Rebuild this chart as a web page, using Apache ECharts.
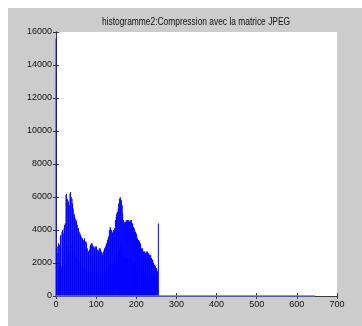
<!DOCTYPE html>
<html>
<head>
<meta charset="utf-8">
<script src="https://cdn.jsdelivr.net/npm/echarts@6/dist/echarts.min.js"></script>
<style>
html,body{margin:0;padding:0;background:#fff;}
#c{width:362px;height:326px;}
</style>
</head>
<body>
<div id="c"></div>
<script>
// Histogram counts for grey levels 0..255
const counts = [
  15600,
  2900, 1500, 3000, 0, 2600,
  3200, 1700, 0, 3100, 1900,
  3600, 3700, 1800, 0, 3900,
  4000, 2200, 3800, 0, 4100,
  4300, 2000, 4400, 0, 6100,
  6200, 3000, 5900, 0, 5800,
  5700, 2600, 5500, 0, 6200,
  6300, 3100, 6000, 0, 5900,
  5600, 2800, 5300, 0, 5000,
  4900, 2400, 4700, 0, 4600,
  4500, 2300, 4300, 0, 4100,
  4100, 2100, 3900, 0, 3800,
  3700, 1900, 3600, 0, 3500,
  3500, 1700, 3400, 0, 3400,
  3500, 1600, 3300, 0, 3300,
  3200, 1500, 2900, 0, 2700,
  2700, 1400, 2800, 0, 3000,
  3100, 1500, 3200, 0, 3200,
  3100, 1600, 3000, 0, 3000,
  2900, 1500, 3000, 0, 2900,
  3000, 1400, 2800, 0, 2800,
  2700, 1400, 2900, 0, 2900,
  2800, 1300, 2700, 0, 2600,
  2500, 1400, 2700, 0, 2800,
  2900, 1500, 3000, 0, 3100,
  3200, 1700, 3400, 0, 3500,
  3600, 1900, 4000, 0, 4200,
  4100, 2000, 4000, 0, 3900,
  3800, 1900, 4000, 0, 3900,
  4100, 2200, 4600, 0, 4800,
  5000, 2500, 5100, 0, 5300,
  5600, 2800, 5900, 0, 6000,
  5900, 3000, 5800, 0, 5500,
  5000, 2400, 4600, 0, 4500,
  4400, 2300, 4500, 0, 4600,
  4500, 2300, 4600, 0, 4500,
  4600, 2200, 4500, 0, 4600,
  4500, 2300, 4600, 0, 4400,
  4400, 2100, 4200, 0, 4100,
  4000, 2000, 3900, 0, 3800,
  3700, 1800, 3500, 0, 3400,
  3400, 1700, 3300, 0, 3200,
  3100, 1600, 2900, 0, 2800,
  2900, 1500, 2700, 0, 2700,
  2700, 1400, 2600, 0, 2700,
  2600, 1300, 2700, 0, 2500,
  2600, 1300, 2500, 0, 2400,
  2500, 1200, 2300, 0, 2200,
  2200, 1100, 2000, 0, 1900,
  1900, 1000, 1800, 0, 1700,
  1600, 900, 1500, 0, 4400
];
// zero-count bins extend along the x axis up to this value
const zeroRange = [0, 645];
const xTicks = [0, 100, 200, 300, 400, 500, 600, 700];
const yTicks = [0, 2000, 4000, 6000, 8000, 10000, 12000, 14000, 16000];
const titleText = 'histogramme2:Compression avec la matrice JPEG';

const barData = counts.map((v, i) => [i, v]);
const font = "'Liberation Sans', Arial, sans-serif";
const axisCol = '#3a3a3a';

const chart = echarts.init(document.getElementById('c'), null, {renderer: 'canvas'});
chart.setOption({
  animation: false,
  backgroundColor: '#ffffff',
  graphic: [{
    type: 'rect', z: -10, silent: true,
    shape: {x: 8, y: 8, width: 354, height: 318},
    style: {fill: '#cccccc'}
  }, {
    type: 'text', silent: true, z: 10,
    x: 196, y: 22, scaleX: 0.84, scaleY: 1,
    style: {text: titleText, fontFamily: font, fontSize: 10, fill: '#111',
            align: 'center', verticalAlign: 'middle'}
  }],
  grid: {left: 56, right: 25, top: 32, bottom: 30, show: true, backgroundColor: '#ffffff', borderWidth: 0},
  xAxis: [{
    type: 'value', min: xTicks[0], max: xTicks[xTicks.length - 1], interval: 100,
    axisLine: {show: true, onZero: false, lineStyle: {color: axisCol, width: 1}},
    axisTick: {show: true, inside: true, length: 3, lineStyle: {color: axisCol}},
    axisLabel: {fontFamily: font, fontSize: 9, color: '#111', margin: 4, formatter: v => String(v)},
    splitLine: {show: false}
  }, {
    type: 'value', position: 'top', min: xTicks[0], max: xTicks[xTicks.length - 1], interval: 100,
    axisLine: {show: true, lineStyle: {color: axisCol, width: 1}},
    axisTick: {show: true, inside: true, length: 3, lineStyle: {color: axisCol}},
    axisLabel: {show: false}, splitLine: {show: false}
  }],
  yAxis: [{
    type: 'value', min: yTicks[0], max: yTicks[yTicks.length - 1], interval: 2000,
    axisLine: {show: true, onZero: false, lineStyle: {color: axisCol, width: 1}},
    axisTick: {show: true, inside: true, length: 3, lineStyle: {color: axisCol}},
    axisLabel: {fontFamily: font, fontSize: 9, color: '#111', margin: 4, formatter: v => String(v)},
    splitLine: {show: false}
  }, {
    type: 'value', position: 'right', min: yTicks[0], max: yTicks[yTicks.length - 1], interval: 2000,
    axisLine: {show: true, lineStyle: {color: axisCol, width: 1}},
    axisTick: {show: true, inside: true, length: 3, lineStyle: {color: axisCol}},
    axisLabel: {show: false}, splitLine: {show: false}
  }],
  series: [{
    type: 'bar', xAxisIndex: 0, yAxisIndex: 0,
    data: barData, barWidth: 0.28, barGap: '-100%',
    itemStyle: {color: '#0000ff'},
    silent: true
  }, {
    type: 'line', xAxisIndex: 0, yAxisIndex: 0,
    data: zeroRange.map(x => [x, 0]),
    symbol: 'none', lineStyle: {color: '#7070ff', width: 1.5}, z: 5, silent: true
  }]
});
</script>
</body>
</html>
